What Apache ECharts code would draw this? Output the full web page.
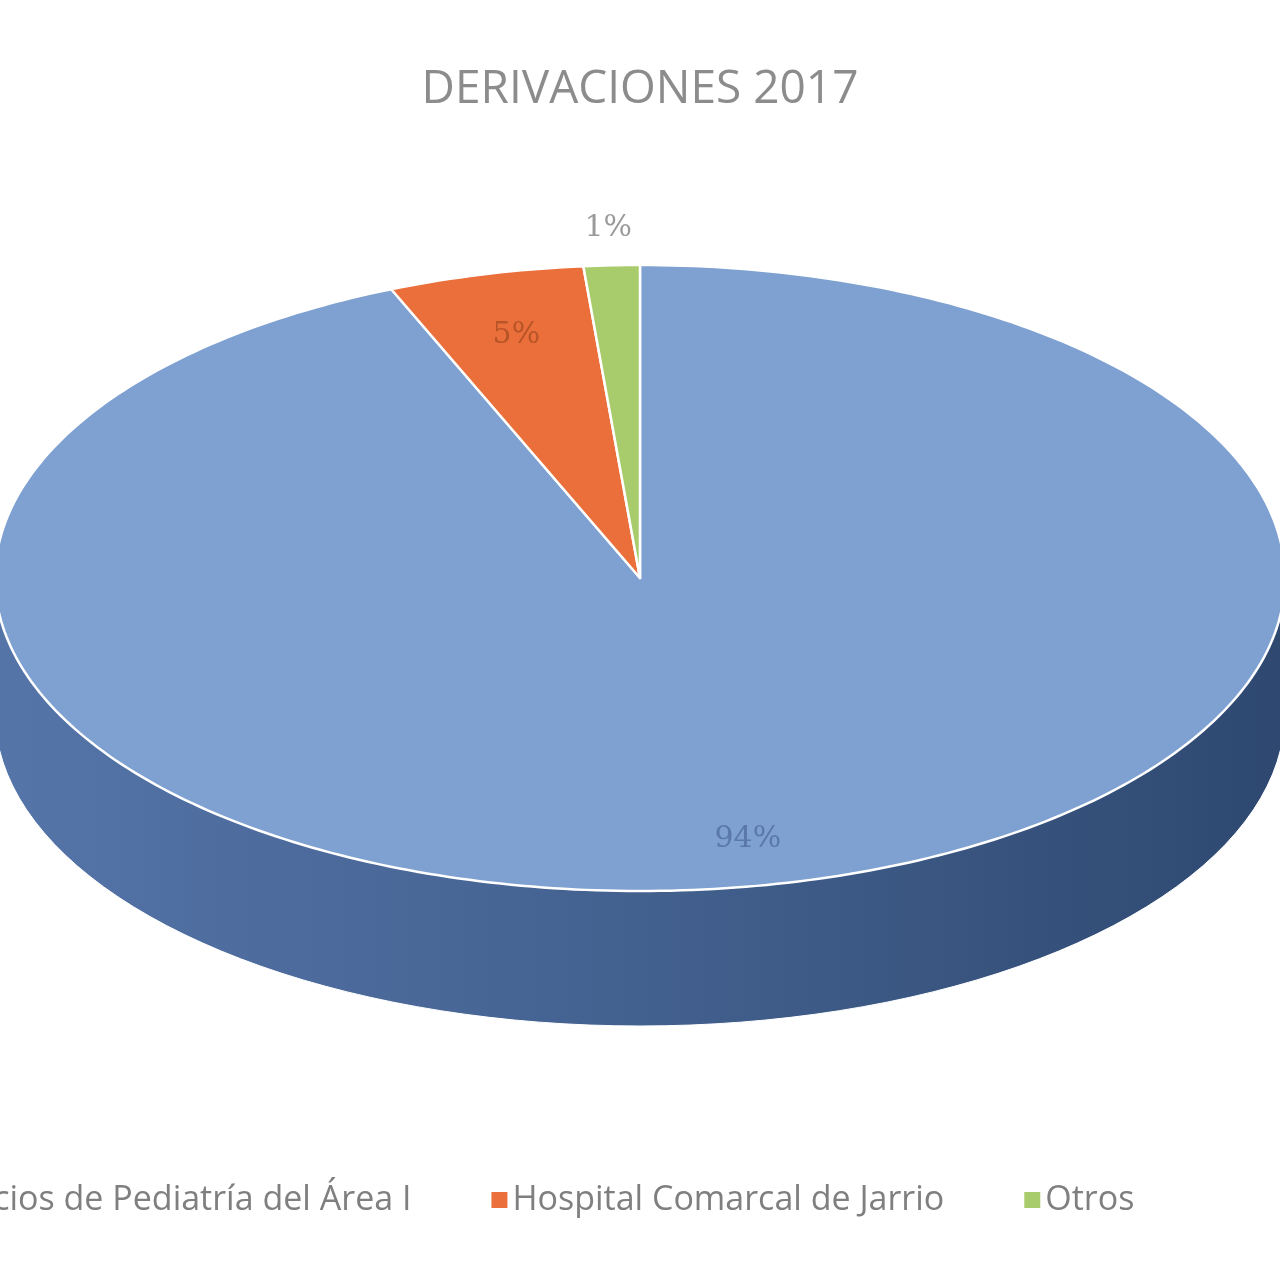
<!DOCTYPE html>
<html><head><meta charset="utf-8">
<script src="https://cdn.jsdelivr.net/npm/echarts@6/dist/echarts.min.js"></script>
<style>html,body{margin:0;padding:0;background:#fff}#c{width:1280px;height:1280px}</style>
</head><body><div id="c"></div>
<script>
const categories = ['Servicios de Pediatría del Área I', 'Hospital Comarcal de Jarrio', 'Otros'];
const values = [93.7, 4.9, 1.4];
const labels = ['94%', '5%', '1%'];
const topColors = ['#7ea1d1', '#ea6f3a', '#a8cc6c'];
const labelColors = ['#5a78a8', '#b75428', '#9a9a9a'];
const labelFactors = [0.85, 0.8, 1.12];

const chart = echarts.init(document.getElementById('c'));
const total = values.reduce((a, b) => a + b, 0);

function renderPie(params, api) {
  const cx = 640, cy = 578, rx = 645, ry = 313, depth = 135;
  const P = (t, dy) => [cx + rx * Math.sin(t), cy - ry * Math.cos(t) + (dy || 0)];
  const children = [];
  let acc = 0;
  const spans = values.map(v => { const s = acc; acc += v; return [s / total * 2 * Math.PI, acc / total * 2 * Math.PI]; });
  spans.forEach((sp, i) => {
    const a = Math.max(sp[0], Math.PI / 2), b = Math.min(sp[1], 3 * Math.PI / 2);
    if (b <= a) return;
    const pts = [];
    const n = 80;
    for (let k = 0; k <= n; k++) pts.push(P(a + (b - a) * k / n));
    for (let k = n; k >= 0; k--) pts.push(P(a + (b - a) * k / n, depth));
    children.push({ type: 'polygon', shape: { points: pts },
      style: { fill: new echarts.graphic.LinearGradient(0, 0, 1, 0, [
        { offset: 0, color: '#5574a8' }, { offset: 0.5, color: '#43618f' }, { offset: 1, color: '#2e4870' }]),
        stroke: '#ffffff', lineWidth: 1 } });
  });
  spans.forEach((sp, i) => {
    const pts = [[cx, cy]];
    const n = Math.max(8, Math.ceil((sp[1] - sp[0]) * 60));
    for (let k = 0; k <= n; k++) pts.push(P(sp[0] + (sp[1] - sp[0]) * k / n));
    children.push({ type: 'polygon', shape: { points: pts },
      style: { fill: topColors[i], stroke: '#ffffff', lineWidth: 2.5, lineJoin: 'round' } });
  });
  spans.forEach((sp, i) => {
    const m = (sp[0] + sp[1]) / 2, f = labelFactors[i];
    children.push({ type: 'text', x: cx + rx * f * Math.sin(m), y: cy - ry * f * Math.cos(m),
      style: { text: labels[i], fill: labelColors[i], font: '30px "DejaVu Serif", serif', align: 'center', verticalAlign: 'middle' } });
  });
  return { type: 'group', children };
}

const series = [{ type: 'custom', name: 'pie', coordinateSystem: 'none', renderItem: renderPie, data: [[0]], silent: true }];
categories.forEach((c, i) => series.push({ type: 'custom', name: c, coordinateSystem: 'none', itemStyle: { color: topColors[i] }, data: [], renderItem: () => ({ type: 'group', children: [] }) }));

chart.setOption({
  animation: false,
  title: { text: 'DERIVACIONES 2017', left: 'center', top: 62,
    textStyle: { color: '#8c8c8c', fontSize: 46, fontWeight: 'normal', fontFamily: '"Open Sans", sans-serif' } },
  legend: { data: categories.map((c, i) => ({ name: c, itemStyle: { color: topColors[i] } })), left: -110, top: 1178, itemGap: 80, itemWidth: 16, itemHeight: 16, icon: 'rect',
    textStyle: { color: '#7f7f7f', fontSize: 34, fontFamily: '"Open Sans", sans-serif' } },
  series
});
</script></body></html>
